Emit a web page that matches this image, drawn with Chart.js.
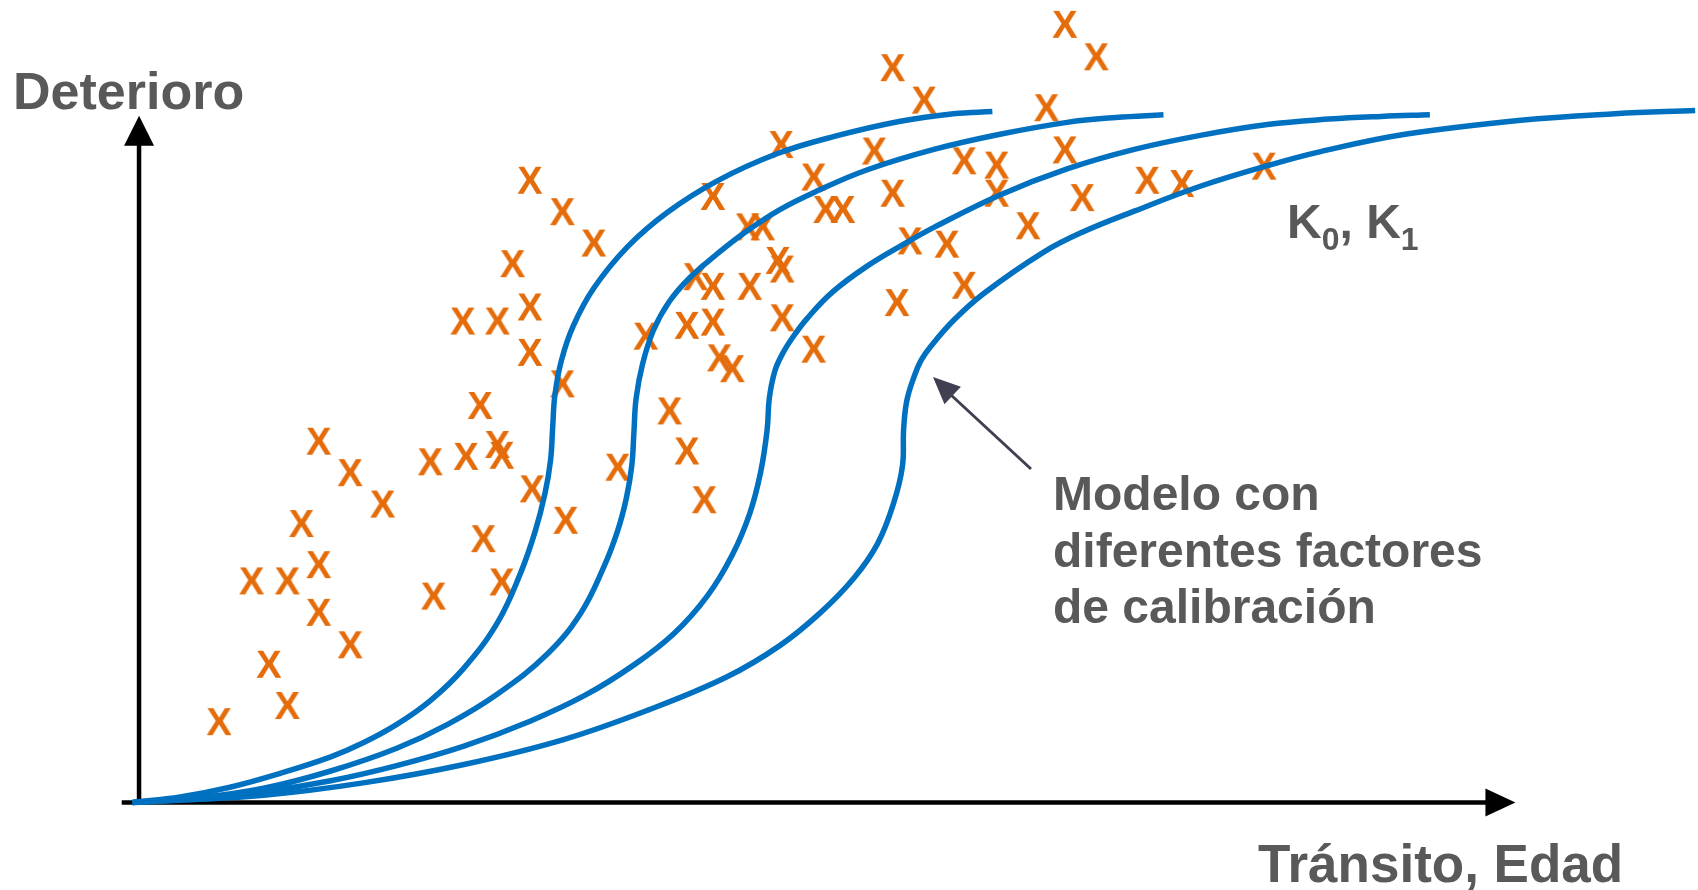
<!DOCTYPE html>
<html>
<head>
<meta charset="utf-8">
<script src="https://cdn.jsdelivr.net/npm/chart.js@4/dist/chart.umd.min.js"></script>
<style>
  html, body { margin: 0; padding: 0; background: #fff; }
  canvas { display: block; }
</style>
</head>
<body>
<canvas id="calibChart" width="1698" height="890"></canvas>
<script>
// values: x = transito/edad, y = deterioro (arbitrary units)
const curve1 = [[-0.6,0],[3.8,0.5],[8.4,1.4],[13.1,2.7],[17.7,4.2],[20.7,5.5],[23.8,7.2],[26.9,9.4],[30.0,12.4],[33.1,16.6],[35.2,21.1],[36.6,25.1],[37.5,28.6],[38.0,31.6],[38.2,34.7],[38.4,37.6],[39.0,40.8],[40.1,44.0],[42.0,47.5],[45.1,51.3],[48.8,54.5],[53.4,57.4],[58.9,59.9],[64.2,61.5],[70.3,62.9],[75.2,63.6],[78.8,63.8]];
const curve2 = [[-0.6,0],[5.4,0.4],[11.5,1.3],[17.7,2.9],[23.8,5.0],[28.5,7.2],[33.1,10.0],[37.7,13.7],[40.8,17.5],[42.9,21.7],[44.2,25.1],[45.0,28.1],[45.5,31.1],[45.7,34.2],[45.9,37.3],[46.5,40.5],[47.5,43.6],[49.0,46.3],[50.9,48.5],[53.2,50.5],[55.9,52.6],[59.1,54.7],[62.7,56.5],[67.2,58.4],[73.4,60.3],[79.5,61.7],[85.7,62.8],[90.2,63.25],[94.6,63.5]];
const curve3 = [[-0.6,0],[5.4,0.4],[11.5,1.0],[17.7,2.0],[23.8,3.4],[30.0,5.2],[36.1,7.5],[41.2,9.9],[45.7,12.7],[49.4,15.6],[52.5,19.1],[54.8,22.9],[56.4,26.7],[57.4,30.5],[58.0,34.4],[58.2,37.3],[58.7,39.8],[59.4,41.4],[60.4,43.0],[61.7,44.7],[64.0,47.1],[67.2,49.5],[70.7,51.6],[73.4,53.1],[79.5,56.1],[85.7,58.5],[91.9,60.3],[98.0,61.6],[104.2,62.6],[109.9,63.1],[114.7,63.35],[119.2,63.5]];
const curve4 = [[-0.6,0],[3.8,0.2],[11.5,0.65],[20.7,1.8],[30.0,3.5],[39.2,5.8],[47.2,8.6],[54.3,11.6],[59.2,14.5],[62.9,17.5],[66.0,20.7],[68.2,23.9],[69.7,27.7],[70.5,31.1],[70.6,34.4],[70.9,37.1],[71.6,39.4],[72.2,40.8],[73.1,42.1],[75.2,44.5],[78.0,47.0],[83.5,50.8],[87.2,52.7],[91.9,54.6],[98.0,56.9],[104.2,58.8],[109.1,60.1],[116.9,61.7],[127.6,63.0],[136.3,63.6],[143.7,63.9]];

const observed = [
  [7.4,7.5],[12.0,12.8],[13.7,9.0],[10.4,20.5],[13.7,20.5],[15.0,25.8],[16.6,22.0],[16.6,17.6],
  [19.5,14.6],[16.6,33.4],[19.5,30.5],[22.5,27.6],[27.2,19.1],[26.9,31.5],[30.2,32.0],[31.5,36.7],
  [33.1,33.1],[33.5,32.1],[31.8,24.4],[33.5,20.4],[36.3,29.0],[39.4,26.1],[39.1,38.7],[36.1,41.6],
  [36.1,45.8],[34.5,49.8],[29.9,44.5],[33.1,44.5],[36.1,57.5],[39.1,54.6],[42.0,51.7],[44.2,31.0],
  [46.8,43.1],[49.0,36.2],[50.6,32.5],[52.2,28.0],[50.6,44.1],[51.4,48.6],[53.0,47.7],[53.0,44.4],
  [53.6,41.1],[54.8,40.1],[53.0,56.0],[56.2,53.2],[57.6,53.2],[56.4,47.7],[59.0,50.1],[59.4,49.3],
  [59.4,44.8],[59.3,60.8],[62.3,57.8],[63.4,54.8],[65.0,54.8],[62.3,41.9],[67.9,60.2],[69.6,56.3],
  [71.2,51.9],[70.0,46.2],[74.6,51.6],[76.2,47.8],[69.6,67.9],[72.5,64.9],[76.2,59.3],[79.2,58.9],
  [79.2,56.3],[82.1,53.3],[83.8,64.2],[85.5,60.3],[87.1,55.9],[85.5,71.9],[88.4,68.9],[93.1,57.5],
  [96.3,57.2],[103.9,58.8]
];

const yLabel = "Deterioro";
const xLabel = "Tránsito, Edad";
const noteLines = ["Modelo con", "diferentes factores", "de calibración"];

const BLUE = "#0070C0";
const ORANGE = "#E46C0A";
const GREY = "#595959";
const FONT = '"Liberation Sans", Arial, sans-serif';

// the orange "X" used as point marker
function makeMarker() {
  const c = document.createElement("canvas");
  c.width = 34;
  c.height = 36;
  const g = c.getContext("2d");
  g.fillStyle = ORANGE;
  g.font = "bold 38px " + FONT;
  g.textAlign = "center";
  g.textBaseline = "alphabetic";
  g.fillText("X", 17, 18 + 14);
  return c;
}

const toXY = (arr) => arr.map((p) => ({ x: p[0], y: p[1] }));

function curveSet(arr) {
  return {
    type: "scatter",
    data: toXY(arr),
    showLine: true,
    borderColor: BLUE,
    borderWidth: 5.5,
    pointRadius: 0,
    pointHoverRadius: 0,
    tension: 0.4,
    fill: false,
    clip: false,
  };
}

function arrowHead(ctx, x0, y0, x1, y1, len, half, color) {
  const a = Math.atan2(y1 - y0, x1 - x0);
  ctx.save();
  ctx.fillStyle = color;
  ctx.translate(x1, y1);
  ctx.rotate(a);
  ctx.beginPath();
  ctx.moveTo(0, 0);
  ctx.lineTo(-len, -half);
  ctx.lineTo(-len, half);
  ctx.closePath();
  ctx.fill();
  ctx.restore();
}

const axesPlugin = {
  id: "axesArrows",
  beforeDatasetsDraw(chart) {
    const ctx = chart.ctx;
    const xs = chart.scales.x, ys = chart.scales.y;
    const ox = xs.getPixelForValue(0), oy = ys.getPixelForValue(0);
    const yTop = ys.getPixelForValue(63.4);
    const xLeft = xs.getPixelForValue(-1.6);
    const xRight = xs.getPixelForValue(127.1);
    ctx.save();
    ctx.strokeStyle = "#000";
    ctx.lineWidth = 4.5;
    ctx.beginPath();
    ctx.moveTo(ox, oy + 2);
    ctx.lineTo(ox, yTop + 25);
    ctx.moveTo(xLeft, oy);
    ctx.lineTo(xRight - 25, oy);
    ctx.stroke();
    arrowHead(ctx, ox, oy, ox, yTop, 30, 15, "#000");
    arrowHead(ctx, xLeft, oy, xRight, oy, 30, 14, "#000");
    ctx.restore();
  },
  afterDraw(chart) {
    const ctx = chart.ctx;
    ctx.save();
    ctx.fillStyle = GREY;
    ctx.textBaseline = "alphabetic";
    ctx.textAlign = "left";
    ctx.font = "bold 52px " + FONT;
    ctx.fillText(yLabel, 13, 109);
    ctx.font = "bold 53px " + FONT;
    ctx.fillText(xLabel, 1258, 882);

    // K0, K1
    let x = 1287;
    const base = 238;
    const big = "bold 48px " + FONT, small = "bold 32px " + FONT;
    const parts = [["K", big, 0], ["0", small, 12], [", ", big, 0], ["K", big, 0], ["1", small, 12]];
    parts.forEach((p) => {
      ctx.font = p[1];
      ctx.fillText(p[0], x, base + p[2]);
      x += ctx.measureText(p[0]).width;
    });

    ctx.font = "bold 48px " + FONT;
    noteLines.forEach((t, i) => ctx.fillText(t, 1053, 510 + i * 56.5));

    // pointer to the curves
    const col = "#404052";
    ctx.strokeStyle = col;
    ctx.lineWidth = 3;
    ctx.beginPath();
    ctx.moveTo(1031, 469);
    ctx.lineTo(951, 395);
    ctx.stroke();
    arrowHead(ctx, 1031, 469, 933, 377, 27, 12, col);
    ctx.restore();
  },
};

const marker = makeMarker();

new Chart(document.getElementById("calibChart"), {
  type: "scatter",
  data: {
    datasets: [
      curveSet(curve1),
      curveSet(curve2),
      curveSet(curve3),
      curveSet(curve4),
      {
        type: "scatter",
        data: toXY(observed),
        showLine: false,
        pointStyle: marker,
        pointRadius: 14,
        pointHoverRadius: 14,
        clip: false,
      },
    ],
  },
  options: {
    responsive: false,
    animation: false,
    events: [],
    layout: { padding: 0, autoPadding: false },
    scales: {
      x: { type: "linear", display: false, min: -12.84, max: 143.96 },
      y: { type: "linear", display: false, min: -8.09, max: 74.1 },
    },
    plugins: {
      legend: { display: false },
      tooltip: { enabled: false },
    },
  },
  plugins: [axesPlugin],
});
</script>
</body>
</html>
